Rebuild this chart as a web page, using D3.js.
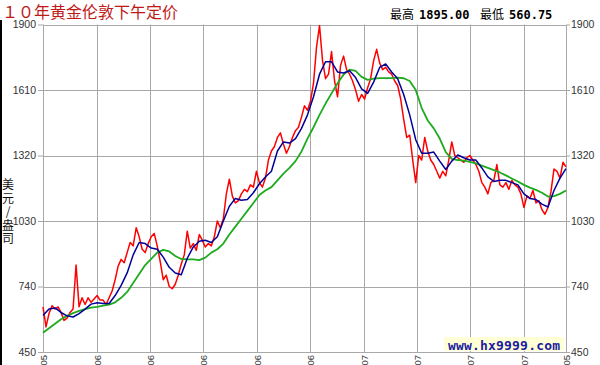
<!DOCTYPE html>
<html>
<head>
<meta charset="utf-8" />
<title>10年黄金伦敦下午定价</title>
<style>
    body { margin: 0; background: #fff; }
    svg { display: block; }
</style>
</head>
<body>
<svg id="chart" width="600" height="365"></svg>
<script src="https://cdn.jsdelivr.net/npm/d3@7/dist/d3.min.js"></script>
<script>
// daily fixing (sampled), 50-day and 200-day averages
var price = [
    650, 561, 620, 655, 640, 650, 625, 590, 600, 625,
    640, 835, 650, 690, 660, 690, 670, 685, 700, 680,
    680, 660, 690, 720, 770, 830, 860, 845, 890, 935,
    920, 1000, 960, 905, 890, 930, 960, 975, 920, 850,
    770, 790, 740, 730, 750, 790, 840, 880, 985, 910,
    930, 900, 970, 945, 915, 930, 920, 960, 1030, 1000,
    1040, 1150, 1215, 1140, 1110, 1120, 1150, 1170, 1160, 1190,
    1180, 1250, 1200, 1180, 1220, 1300, 1340, 1360, 1400, 1420,
    1370, 1330, 1360, 1400, 1430, 1445, 1490, 1540, 1520, 1560,
    1640, 1800, 1895, 1740, 1660, 1680, 1780, 1650, 1580, 1720,
    1760, 1700, 1680, 1650, 1610, 1560, 1590, 1570, 1620, 1660,
    1740, 1790, 1730, 1700, 1710, 1690, 1680, 1650, 1630, 1570,
    1480, 1400, 1410, 1300, 1200, 1320, 1300, 1400, 1340, 1300,
    1280, 1250, 1220, 1250, 1230, 1300, 1380, 1320, 1310, 1300,
    1290, 1310, 1320, 1300, 1280, 1250, 1200, 1180, 1150, 1200,
    1210, 1280, 1190, 1180, 1200, 1170, 1210, 1190, 1180, 1150,
    1090, 1140, 1130, 1165, 1110, 1120, 1080, 1060, 1090, 1160,
    1260, 1250, 1220, 1290, 1270
];

var ma50 = [
    612, 640, 645, 625, 610, 605, 620, 640, 662, 668,
    665, 665, 700, 745, 800, 880, 935, 930, 910, 905,
    870, 825, 800, 792, 865, 915, 940, 945, 935, 960,
    1030, 1095, 1130, 1122, 1125, 1155, 1195, 1225, 1250, 1340,
    1380, 1375, 1395, 1440, 1500, 1580, 1680, 1735, 1735, 1690,
    1685, 1695, 1665, 1615, 1595, 1645, 1710, 1725, 1690, 1660,
    1590, 1500, 1390, 1330, 1330, 1335, 1295, 1258, 1295, 1322,
    1310, 1300, 1300, 1265, 1225, 1205, 1210, 1210, 1200, 1190,
    1150, 1130, 1125, 1105, 1092, 1165, 1220, 1262
];

var ma200 = [
    535, 555, 575, 595, 610, 622, 632, 640, 646, 650,
    655, 660, 670, 690, 716, 755, 795, 835, 862, 890,
    902, 895, 875, 862, 860, 860, 857, 868, 890, 905,
    930, 970, 1005, 1040, 1075, 1110, 1145, 1165, 1180, 1210,
    1240, 1265, 1295, 1338, 1395, 1445, 1500, 1550, 1595, 1640,
    1678, 1700, 1695, 1668, 1655, 1660, 1663, 1663, 1663, 1665,
    1662, 1650, 1610, 1530, 1475, 1440, 1395, 1335, 1305, 1300,
    1297, 1292, 1285, 1275, 1265, 1255, 1245, 1232, 1218, 1205,
    1190, 1178, 1168, 1155, 1138, 1140, 1150, 1165
];

var yTicks = [450, 740, 1030, 1320, 1610, 1900];
// tick spots along the price series (sample index)
var xTickIdx = [0, 17.8, 35.6, 53.3, 71.1, 88.9, 106.7, 124.4, 142.2, 160, 174];
var xTickLabels = ["2006-07-05", "2007-07-06", "2008-07-06", "2009-07-06", "2010-07-06",
    "2011-07-06", "2012-07-07", "2013-07-07", "2014-07-07", "2015-07-07", "2016-07-05"];

var title = "１０年黄金伦敦下午定价";
var hiLabel = "最高", hiValue = "1895.00";
var loLabel = "最低", loValue = "560.75";
var unitChars = ["美", "元", "/", "盎", "司"];
var site = "www.hx9999.com";

var svg = d3.select("#chart");
// note: "top" is window.top, so use other names
var pl = 43, pr = 566, pt = 24.5, pb = 352;
var last = price.length - 1;

var x = d3.scaleLinear().domain([0, last]).range([pl, pr]);
var y = d3.scaleLinear().domain([450, 1900]).range([pb, pt]);

var cjk = "'Noto Sans CJK SC', sans-serif";
var mono = "'DejaVu Sans Mono', monospace";

// left black edge
svg.append("rect").attr("x", 0).attr("y", 20).attr("width", 2).attr("height", 345).attr("fill", "#000");

// grid
svg.append("g").selectAll("line").data(yTicks).enter().append("line")
    .attr("x1", pl).attr("x2", pr + 1)
    .attr("y1", function(d) { return Math.round(y(d)) + 0.5; })
    .attr("y2", function(d) { return Math.round(y(d)) + 0.5; })
    .attr("stroke", "#a8a8a8");

svg.append("g").selectAll("line").data(xTickIdx).enter().append("line")
    .attr("x1", function(d) { return Math.round(x(d)) + 0.5; })
    .attr("x2", function(d) { return Math.round(x(d)) + 0.5; })
    .attr("y1", pt).attr("y2", pb + 1)
    .attr("stroke", "#a8a8a8");

// y axes, both sides
var yl = svg.append("g").attr("transform", "translate(" + pl + ",0)")
    .call(d3.axisLeft(y).tickValues(yTicks).tickFormat(d3.format("d")).tickSize(5).tickPadding(2));
var yr = svg.append("g").attr("transform", "translate(" + (pr + 1) + ",0)")
    .call(d3.axisRight(y).tickValues(yTicks).tickFormat(d3.format("d")).tickSize(3).tickPadding(1));
[yl, yr].forEach(function(g) {
    g.select(".domain").remove();
    g.selectAll("line").attr("stroke", "#a8a8a8");
    g.selectAll("text").attr("fill", "#333").attr("font-size", 10.5)
        .attr("font-family", "'Liberation Sans', Arial, sans-serif");
});

// x labels, rotated and cut by the page edge
svg.append("g").selectAll("text").data(xTickIdx).enter().append("text")
    .attr("transform", function(d) {
        return "translate(" + (Math.round(x(d)) + 4) + "," + (pb + 3) + ") rotate(-90)";
    })
    .attr("text-anchor", "end")
    .attr("font-size", 9.5)
    .attr("font-family", "'Liberation Sans', Arial, sans-serif")
    .attr("fill", "#333")
    .text(function(d, i) { return xTickLabels[i]; });

// lines
function drawLine(data, color, width) {
    var step = last / (data.length - 1);
    var line = d3.line()
        .x(function(d, i) { return x(i * step); })
        .y(function(d) { return y(d); });
    svg.append("path").datum(data)
        .attr("d", line)
        .attr("fill", "none")
        .attr("stroke", color)
        .attr("stroke-width", width)
        .attr("stroke-linejoin", "round");
}
drawLine(price, "#ff0000", 1.5);
drawLine(ma200, "#1faa1f", 1.8);
drawLine(ma50, "#000099", 1.5);

// watermark
svg.append("rect").attr("x", 444).attr("y", 337).attr("width", 120).attr("height", 14).attr("fill", "#ffffd6");
svg.append("text").attr("x", 448).attr("y", 349.5)
    .attr("font-family", mono).attr("font-weight", "bold").attr("font-size", 13)
    .attr("textLength", 112).attr("fill", "#1c1ca0")
    .text(site);

// title + high/low
svg.append("text").attr("x", 2).attr("y", 18)
    .attr("font-family", cjk).attr("font-size", 16).attr("fill", "#c01818")
    .text(title);

var hdr = [
    { t: hiLabel, x: 390, f: cjk, w: "normal" },
    { t: hiValue, x: 419, f: mono, w: "bold" },
    { t: loLabel, x: 480, f: cjk, w: "normal" },
    { t: loValue, x: 509, f: mono, w: "bold" }
];
svg.append("g").selectAll("text").data(hdr).enter().append("text")
    .attr("x", function(d) { return d.x; })
    .attr("y", 19)
    .attr("font-family", function(d) { return d.f; })
    .attr("font-weight", function(d) { return d.w; })
    .attr("font-size", 12)
    .attr("fill", "#000")
    .text(function(d) { return d.t; });

// unit, stacked
svg.append("g").selectAll("text").data(unitChars).enter().append("text")
    .attr("x", 8)
    .attr("y", function(d, i) { return 189 + i * 13.5; })
    .attr("text-anchor", "middle")
    .attr("font-family", cjk).attr("font-size", 12).attr("fill", "#111")
    .text(function(d) { return d; });
</script>
</body>
</html>
